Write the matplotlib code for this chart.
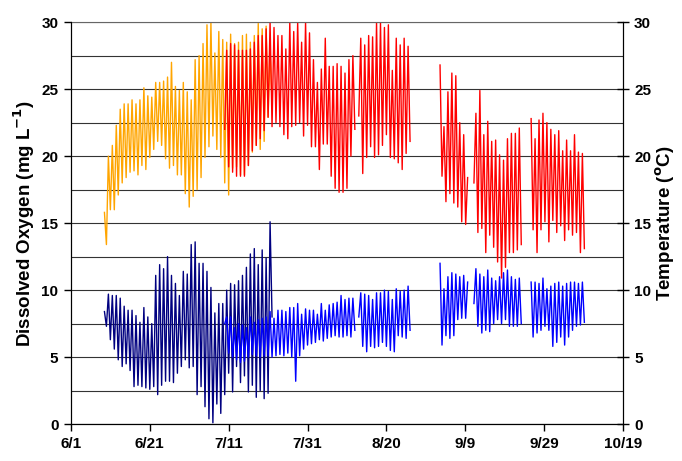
import matplotlib
matplotlib.use("Agg")
import matplotlib.pyplot as plt
import numpy as np

plt.rcParams['font.family'] = ['Liberation Sans', 'DejaVu Sans']

# x axis: days since 6/1
tick_days = [0, 20, 40, 60, 80, 100, 120, 140]
tick_labels = ['6/1', '6/21', '7/11', '7/31', '8/20', '9/9', '9/29', '10/19']

# site 1 (orange temperature, navy DO) - daily highs / lows, starting high at day 8.5
site1_start = 8.5
t1_high = [15.8, 20.0, 20.8, 22.3, 23.5, 23.9, 23.9, 24.2, 23.9, 24.2, 25.1, 24.5, 24.4,
           25.5, 25.5, 25.6, 25.9, 27.0, 25.2, 24.9, 25.5, 24.8, 24.2, 27.2, 27.5, 28.4,
           29.8, 30.0, 27.7, 29.3, 28.7, 28.5, 29.1, 28.4, 28.5, 29.0, 29.1, 28.5, 29.0,
           29.9, 29.5, 29.7, 28.0]
t1_low = [13.4, 16.0, 16.0, 17.1, 18.0, 18.4, 18.8, 18.9, 18.6, 19.3, 19.0, 19.9, 20.5,
          21.1, 20.8, 19.8, 19.1, 19.3, 18.6, 18.6, 17.2, 16.2, 17.0, 17.5, 18.4, 19.9,
          20.7, 21.5, 20.5, 19.9, 18.0, 17.1, 19.1, 19.2, 18.6, 18.6, 19.3, 20.3, 20.8,
          20.5, 21.1, 22.9, 24.0]
do1_high = [8.4, 9.7, 9.6, 9.6, 9.4, 8.8, 8.5, 8.5, 8.1, 7.6, 8.7, 8.0, 7.5, 11.1, 11.9,
            11.6, 12.5, 11.1, 10.5, 9.6, 11.4, 11.2, 13.4, 13.6, 12.0, 12.0, 11.4, 10.2,
            8.3, 9.0, 9.0, 10.0, 10.5, 10.4, 10.7, 11.1, 11.7, 12.7, 13.1, 11.9, 13.0,
            12.4, 15.1]
do1_low = [7.3, 6.3, 5.6, 4.8, 4.3, 4.5, 4.0, 2.8, 2.9, 2.8, 2.7, 2.6, 2.8, 2.2, 2.9, 3.2,
           3.2, 3.1, 3.8, 4.3, 4.8, 4.2, 4.3, 2.2, 2.8, 1.3, 0.4, 0.1, 1.5, 0.8, 2.2, 3.8,
           2.4, 4.3, 3.1, 3.6, 2.4, 2.9, 2.0, 2.5, 1.9, 2.3, 8.0]

# site 2 (red temperature, blue DO) - recorded in five stretches
seg_start = [39.0, 73.0, 93.6, 102.2, 116.7]
seg_high_first = [False, False, True, False, True]

t2_high = [
    [27.9, 28.4, 28.3, 27.9, 27.9, 27.9, 28.0, 28.5, 29.0, 29.0, 29.5, 30.0, 29.6, 29.0,
     29.0, 28.0, 30.0, 29.3, 30.0, 28.5, 30.0, 29.2, 27.2, 25.5, 26.5, 28.8, 26.7, 26.7,
     26.9, 26.7, 26.2, 27.2, 27.5],
    [28.8, 28.3, 29.0, 28.9, 30.0, 30.0, 29.6, 29.8, 26.4, 28.8, 28.3, 28.8, 28.2],
    [26.8, 22.2, 24.8, 26.2, 26.0, 22.5, 21.6, 18.4],
    [23.2, 24.9, 21.6, 22.6, 21.1, 21.2, 20.1, 19.7, 21.3, 21.7, 21.7, 22.1],
    [22.8, 21.3, 22.7, 23.2, 22.5, 22.0, 21.6, 21.9, 20.4, 21.2, 20.4, 21.6, 20.3, 20.2],
]
t2_low = [
    [22.0, 19.2, 18.8, 18.5, 18.5, 18.5, 19.3, 20.4, 20.8, 21.3, 21.9, 22.9, 22.2, 22.5,
     22.2, 21.6, 21.3, 22.2, 22.3, 22.5, 21.5, 22.3, 20.7, 20.7, 19.0, 20.9, 20.9, 18.5,
     17.6, 17.3, 17.3, 17.6, 20.0, 22.0],
    [23.0, 18.7, 19.9, 20.7, 19.9, 20.1, 20.8, 21.6, 19.9, 19.8, 19.5, 19.0, 20.2, 21.1],
    [18.5, 16.6, 17.2, 16.5, 16.2, 15.1, 14.9],
    [18.0, 14.3, 14.6, 12.8, 14.1, 13.2, 12.1, 10.9, 11.7, 12.8, 12.8, 13.0, 13.4],
    [14.5, 12.8, 14.5, 15.1, 13.6, 15.2, 14.3, 14.8, 13.7, 14.5, 14.1, 14.3, 12.8, 13.1],
]
do2_high = [
    [8.0, 8.0, 7.2, 7.5, 7.4, 7.2, 8.0, 7.6, 7.8, 7.9, 8.0, 8.4, 7.9, 8.5, 8.5, 8.4, 8.7,
     8.7, 9.0, 8.2, 8.6, 8.5, 8.5, 8.2, 9.0, 8.5, 8.9, 9.0, 9.1, 9.6, 9.3, 9.4, 9.4],
    [9.8, 9.7, 9.6, 9.3, 9.8, 9.8, 10.0, 9.9, 9.3, 10.1, 9.9, 10.0, 10.3],
    [12.0, 10.1, 11.0, 11.3, 11.2, 11.0, 11.1, 10.6],
    [11.6, 11.2, 11.0, 11.5, 10.9, 10.7, 11.0, 11.3, 11.5, 11.0, 10.8, 10.9],
    [10.6, 10.6, 10.5, 10.9, 10.1, 10.3, 10.5, 10.6, 10.3, 10.5, 10.6, 10.6, 10.5, 10.6],
]
do2_low = [
    [7.5, 5.3, 5.0, 4.8, 4.6, 4.7, 5.0, 5.2, 5.1, 5.0, 5.1, 5.1, 5.0, 5.1, 5.2, 5.1, 5.3,
     5.0, 3.2, 5.1, 5.6, 5.9, 6.0, 6.1, 6.3, 6.2, 6.4, 6.5, 6.6, 6.5, 6.5, 6.6, 6.5, 7.0],
    [8.0, 5.8, 5.4, 5.8, 5.7, 5.8, 6.1, 5.8, 5.5, 5.4, 6.6, 6.5, 6.4, 7.0],
    [5.9, 6.6, 6.4, 6.6, 7.8, 7.9, 7.9],
    [9.0, 7.3, 6.8, 7.0, 6.9, 7.5, 7.8, 7.5, 7.8, 7.3, 7.3, 7.3, 7.5],
    [6.5, 6.8, 7.0, 7.3, 7.0, 5.8, 6.1, 6.5, 5.9, 6.5, 7.0, 7.3, 7.4, 7.6],
]


def zigzag(start, first, second):
    # alternate the two lists, half a day apart
    vals = []
    for i in range(len(first)):
        vals.append(first[i])
        if i < len(second):
            vals.append(second[i])
    t = start + 0.5 * np.arange(len(vals))
    return t, vals


def segment(start, highs, lows, high_first):
    if high_first:
        return zigzag(start, highs, lows)
    return zigzag(start, lows, highs)


fig = plt.figure(figsize=(6.82, 4.61), dpi=100)
ax = fig.add_axes([0.104, 0.08, 0.8095, 0.872])

lw = 1.0
t, v = zigzag(site1_start, t1_high, t1_low)
ax.plot(t, v, color='#FFA500', lw=lw)
t, v = zigzag(site1_start, do1_high, do1_low)
ax.plot(t, v, color='#000080', lw=lw)
for i in range(len(seg_start)):
    t, v = segment(seg_start[i], t2_high[i], t2_low[i], seg_high_first[i])
    ax.plot(t, v, color='#FF0000', lw=lw)
    t, v = segment(seg_start[i], do2_high[i], do2_low[i], seg_high_first[i])
    ax.plot(t, v, color='#0000FF', lw=lw)

ax.set_xlim(0, 140)
ax.set_ylim(0, 30)
ax.set_xticks(tick_days)
ax.set_xticklabels(tick_labels)
ax.set_yticks(np.arange(0, 31, 5))
ax.set_yticks(np.arange(2.5, 30, 5), minor=True)
ax.grid(axis='y', which='both', color='#333333', lw=0.8)
ax.set_axisbelow(True)
ax.tick_params(axis='both', which='major', direction='out', length=5, width=1,
               labelsize=11, pad=4)
ax.tick_params(axis='y', which='minor', length=0)
for lab in ax.get_xticklabels() + ax.get_yticklabels():
    lab.set_fontweight('bold')
ax.spines['top'].set_color('#666666')
ax.spines['top'].set_linewidth(0.8)
ax.set_ylabel('Dissolved Oxygen (mg L$^{\\mathbf{-1}}$)', fontsize=13.5,
              fontweight='bold', labelpad=3)

ax2 = ax.twinx()
ax2.set_ylim(0, 30)
ax2.set_yticks(np.arange(0, 31, 5))
ax2.tick_params(axis='y', direction='inout', length=8, width=1, labelsize=11, pad=4)
for lab in ax2.get_yticklabels():
    lab.set_fontweight('bold')
ax2.spines['top'].set_visible(False)
ax2.set_ylabel('Temperature ($^{\\mathbf{o}}$C)', fontsize=13.5, fontweight='bold',
               labelpad=2)

fig.savefig('out.png', dpi=100)
